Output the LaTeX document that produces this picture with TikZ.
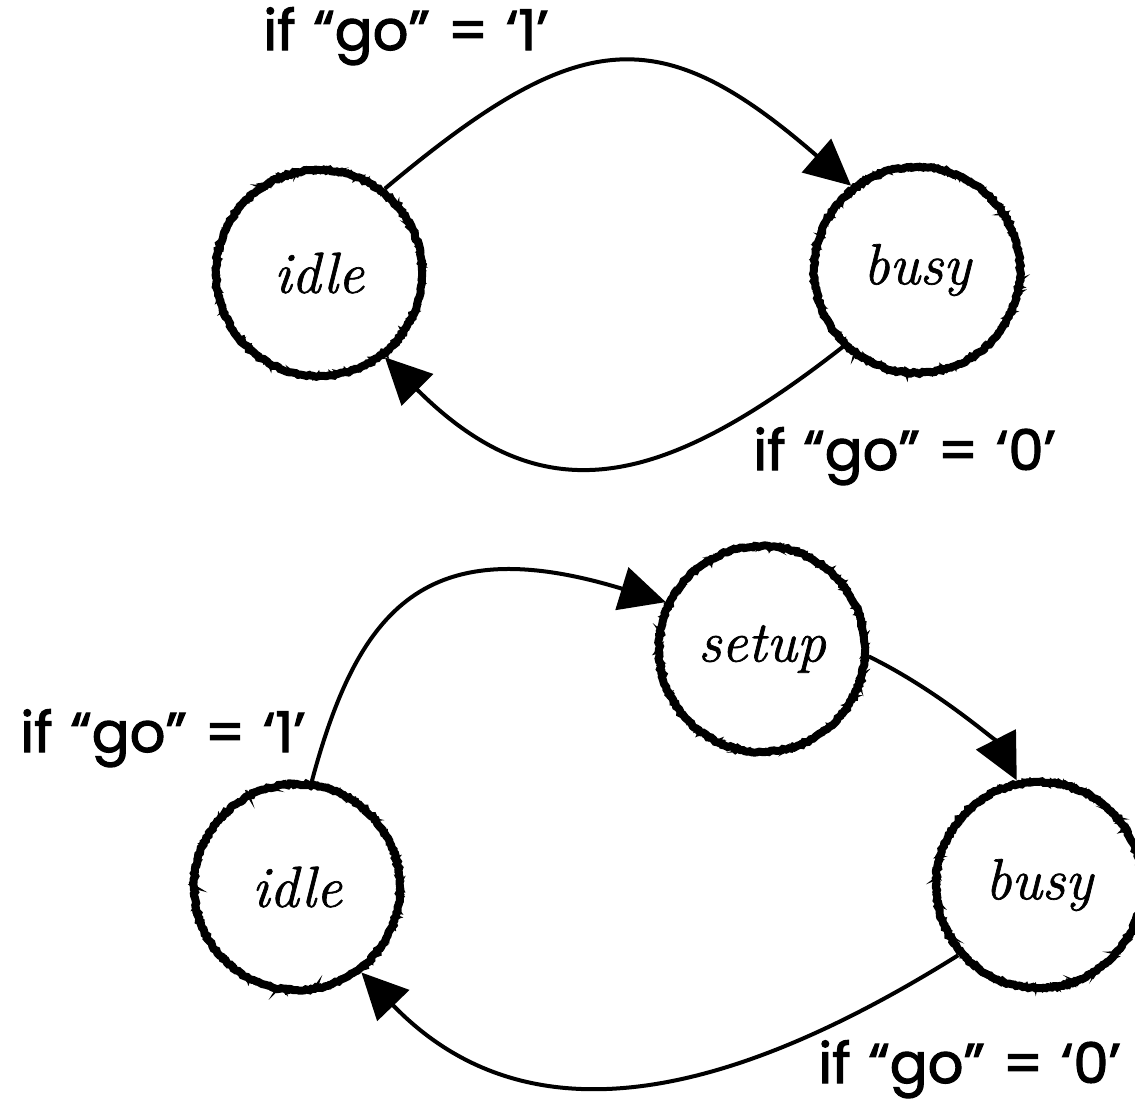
\documentclass[tikz,border=0pt]{standalone}
\usepackage{fontspec}
\newfontfamily\labelfont{Poppins}[FakeBold=2,WordSpace=1.2]
\newfontfamily\statefont{Latin Modern Roman}[FakeBold=1.2]
\usetikzlibrary{arrows.meta,decorations.pathmorphing}

\begin{document}
\begin{tikzpicture}[x=0.5pt,y=-0.5pt,every node/.style={inner sep=0pt}]
    \tikzset{
      state/.style={circle,draw,line width=4pt,minimum size=103pt,
        decoration={random steps,segment length=1.2pt,amplitude=0.5pt},decorate,
        preaction={draw,line width=1.6pt,decorate,
          decoration={random steps,segment length=0.8pt,amplitude=1.3pt}},
        font=\statefont\fontsize{29}{32}\selectfont\itshape},
      edge/.style={line width=2pt,-{Triangle[length=23pt,width=22pt]}},
      cond/.style={anchor=base west,font=\labelfont\fontsize{28}{30}\selectfont}
    }
    \useasboundingbox (0,0) rectangle (1135,1100);
    % first machine
    \node[state] (idleA) at (319,273) {idle};
    \node[state] (busyA) at (917,270) {busy};
    \draw[edge] (idleA.52) .. controls +(40:127pt) and +(139:127pt) .. (busyA.128);
    \draw[edge] (busyA.-134) .. controls +(218:113pt) and +(-45:113pt) .. (idleA.-52);
    \node[cond] (goA1) at (263,50) {if “go” = ‘1’};
    \node[cond] (goA0) at (753,470) {if “go” = ‘0’};
    % second machine
    \node[state] (idleB) at (297,887) {idle};
    \node[state] (setupB) at (762,649) {setup};
    \node[state] (busyB) at (1039,885) {busy};
    \draw[edge] (idleB.82) .. controls +(75:90pt) and +(163:125pt) .. (setupB.154);
    \draw[edge] (setupB.-4) .. controls +(-26:40pt) and +(117:20pt) .. (busyB.102);
    \draw[edge] (busyB.-139) .. controls +(212:125pt) and +(-46:125pt) .. (idleB.-53);
    \node[cond] (goB1) at (20,752) {if “go” = ‘1’};
    \node[cond] (goB0) at (818,1083) {if “go” = ‘0’};
\end{tikzpicture}
\end{document}
